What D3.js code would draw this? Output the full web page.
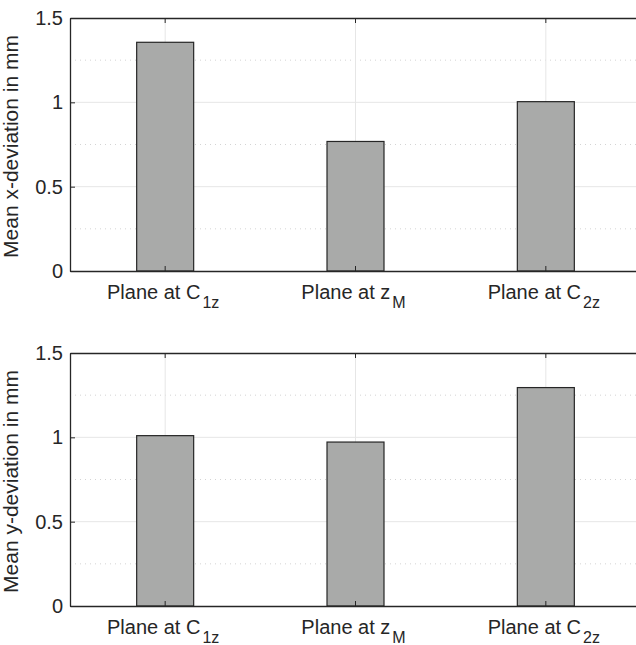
<!DOCTYPE html>
<html>
<head>
<meta charset="utf-8">
<script src="https://cdn.jsdelivr.net/npm/d3@7"></script>
<style>
  body { margin: 0; background: #fff; }
  svg { display: block; font-family: "Liberation Sans", Arial, sans-serif; }
</style>
</head>
<body>
<svg id="chart"></svg>
<script>
const categories = ["C|1z", "z|M", "C|2z"];
const xDeviation = [1.356, 0.768, 1.004];
const yDeviation = [1.010, 0.972, 1.295];
const yTicks = [0, 0.5, 1, 1.5];
const yMinor = [0.25, 0.75, 1.25];
const yLabels = ["Mean x-deviation in mm", "Mean y-deviation in mm"];

let width = 636;
let height = 645;
let left = 70;
let right = 641;
let panels = [
  { top: 18, bottom: 271, values: xDeviation, label: yLabels[0] },
  { top: 353, bottom: 606, values: yDeviation, label: yLabels[1] }
];

const svg = d3.select("#chart")
  .attr("width", width)
  .attr("height", height);

const xScale = d3.scaleBand()
  .domain(categories)
  .range([left, right]);

let barWidth = 57;
let axisColor = "#262626";

panels.forEach((p) => {
  const yScale = d3.scaleLinear()
    .domain([0, 1.5])
    .range([p.bottom, p.top]);

  const g = svg.append("g");

  // minor grid (dotted)
  g.selectAll(".minor")
    .data(yMinor)
    .enter()
    .append("line")
    .attr("x1", left)
    .attr("x2", right)
    .attr("y1", (d) => yScale(d))
    .attr("y2", (d) => yScale(d))
    .attr("stroke", "#d4d4d4")
    .attr("stroke-dasharray", "1,4");

  // major grid
  g.selectAll(".gridy")
    .data(yTicks.slice(1, -1))
    .enter()
    .append("line")
    .attr("x1", left)
    .attr("x2", right)
    .attr("y1", (d) => yScale(d))
    .attr("y2", (d) => yScale(d))
    .attr("stroke", "#e6e6e6");

  g.selectAll(".gridx")
    .data(categories)
    .enter()
    .append("line")
    .attr("x1", (d) => xScale(d) + xScale.bandwidth() / 2)
    .attr("x2", (d) => xScale(d) + xScale.bandwidth() / 2)
    .attr("y1", p.top)
    .attr("y2", p.bottom)
    .attr("stroke", "#e6e6e6");

  // bars
  g.selectAll(".bar")
    .data(p.values)
    .enter()
    .append("rect")
    .attr("x", (d, i) => xScale(categories[i]) + xScale.bandwidth() / 2 - barWidth / 2)
    .attr("y", (d) => yScale(d))
    .attr("width", barWidth)
    .attr("height", (d) => p.bottom - yScale(d))
    .attr("fill", "#a9aaa9")
    .attr("stroke", axisColor)
    .attr("stroke-width", 1.2);

  // axes
  const yAxis = d3.axisLeft(yScale)
    .tickValues(yTicks)
    .tickFormat(d3.format("~g"))
    .tickSizeInner(-5)
    .tickSizeOuter(0)
    .tickPadding(7);

  const ya = g.append("g")
    .attr("transform", `translate(${left}, 0)`)
    .call(yAxis);
  ya.attr("font-size", 20).attr("font-family", null);
  ya.selectAll("text").attr("fill", axisColor);

  g.append("g")
    .attr("transform", `translate(${right}, 0)`)
    .call(d3.axisRight(yScale).tickValues(yTicks).tickFormat("").tickSizeInner(-5).tickSizeOuter(0));

  const xAxis = d3.axisBottom(xScale)
    .tickSizeInner(-5)
    .tickSizeOuter(0)
    .tickFormat("");
  g.append("g")
    .attr("transform", `translate(0, ${p.bottom})`)
    .call(xAxis);
  g.append("g")
    .attr("transform", `translate(0, ${p.top})`)
    .call(d3.axisTop(xScale).tickSizeInner(-5).tickSizeOuter(0).tickFormat(""));

  g.selectAll(".domain").attr("stroke", axisColor).attr("stroke-width", 1.3);
  g.selectAll(".tick line").attr("stroke", axisColor);

  // x labels with subscripts
  categories.forEach((c) => {
    let parts = c.split("|");
    let t = g.append("text")
      .attr("x", xScale(c) + xScale.bandwidth() / 2 - 2)
      .attr("y", p.bottom + 28)
      .attr("text-anchor", "middle")
      .attr("font-size", 20)
      .attr("fill", axisColor);
    t.append("tspan").text("Plane at " + parts[0]);
    t.append("tspan").attr("dy", 9).attr("dx", 2).attr("font-size", 16).text(parts[1]);
  });

  // y label
  svg.append("text")
    .attr("transform", `translate(18, ${(p.top + p.bottom) / 2 + 2}) rotate(-90)`)
    .attr("text-anchor", "middle")
    .attr("font-size", 21)
    .attr("fill", axisColor)
    .text(p.label);
});
</script>
</body>
</html>
